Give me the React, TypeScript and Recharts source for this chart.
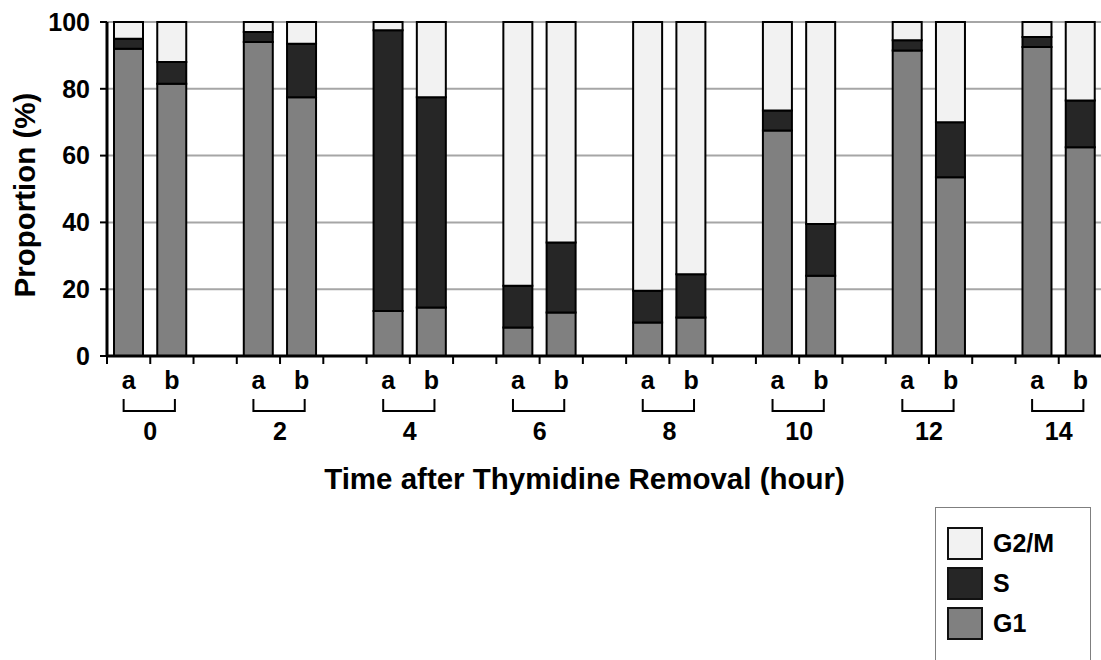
import { BarChart, Bar, XAxis, YAxis, CartesianGrid, Legend, Label } from "recharts";

// hours after thymidine removal, each with an "a" and a "b" bar
const hours = ["0", "2", "4", "6", "8", "10", "12", "14"];

// proportions (%)
const g1A = [92, 94, 13.5, 8.5, 10, 67.5, 91.5, 92.5];
const sA = [3, 3, 84, 12.5, 9.5, 6, 3, 3];
const g2mA = [5, 3, 2.5, 79, 80.5, 26.5, 5.5, 4.5];

const g1B = [81.5, 77.5, 14.5, 13, 11.5, 24, 53.5, 62.5];
const sB = [6.5, 16, 63, 21, 13, 15.5, 16.5, 14];
const g2mB = [12, 6.5, 22.5, 66, 75.5, 60.5, 30, 23.5];

const yTicks = [0, 20, 40, 60, 80, 100];

const series = [
  { key: "G1", name: "G1", color: "#808080" },
  { key: "S", name: "S", color: "#262626" },
  { key: "G2M", name: "G2/M", color: "#f2f2f2" },
];

const FONT = "'Liberation Sans', Arial, sans-serif";

type Row = { key: string; G1?: number; S?: number; G2M?: number };

const rows: Row[] = [];
hours.forEach((h, i) => {
  rows.push({ key: `${h}a`, G1: g1A[i], S: sA[i], G2M: g2mA[i] });
  rows.push({ key: `${h}b`, G1: g1B[i], S: sB[i], G2M: g2mB[i] });
  // empty slot between groups
  if (i < hours.length - 1) rows.push({ key: `gap${h}` });
});

function XTick(props: any) {
  const { x, y, payload, index } = props;
  const half = payload.offset || 995 / rows.length / 2;
  const k: string = payload.value;
  const letter = k.startsWith("gap") ? "" : k.slice(-1);
  const hour = k.slice(0, -1);
  const last = index === rows.length - 1;
  const txt = { fontFamily: FONT, fontWeight: 700, fontSize: 25, fill: "#000" };
  return (
    <g>
      <line x1={x - half} x2={x - half} y1={y + 1} y2={y + 8} stroke="#000" strokeWidth={2} />
      {last && <line x1={x + half} x2={x + half} y1={y + 1} y2={y + 8} stroke="#000" strokeWidth={2} />}
      {letter && (
        <text x={x} y={y + 33} textAnchor="middle" {...txt}>
          {letter}
        </text>
      )}
      {letter === "a" && (
        <>
          <path
            d={`M${x - 5},${y + 43}V${y + 55}H${x + 2 * half + 3}V${y + 43}`}
            fill="none"
            stroke="#000"
            strokeWidth={2}
          />
          <text x={x + half} y={y + 84} textAnchor="middle" {...txt}>
            {hour}
          </text>
        </>
      )}
    </g>
  );
}

function YTitle(props: any) {
  const vb = props.viewBox || { x: 0, y: 22, width: 107, height: 334 };
  const cx = vb.x + 35;
  const cy = vb.y + vb.height / 2 + 6;
  return (
    <text
      x={cx}
      y={cy}
      transform={`rotate(-90, ${cx}, ${cy})`}
      textAnchor="middle"
      fontFamily={FONT}
      fontWeight={700}
      fontSize={29.5}
      fill="#000"
    >
      Proportion (%)
    </text>
  );
}

function XTitle(props: any) {
  const vb = props.viewBox || { x: 107, y: 356, width: 995, height: 304 };
  return (
    <text
      x={vb.x + vb.width / 2 - 20}
      y={vb.y + 133}
      textAnchor="middle"
      fontFamily={FONT}
      fontWeight={700}
      fontSize={29.5}
      fill="#000"
    >
      Time after Thymidine Removal (hour)
    </text>
  );
}

function LegendBox() {
  // legend lists top segment first
  const items = [...series].reverse();
  return (
    <div
      style={{
        position: "relative",
        width: 156,
        height: 170,
        boxSizing: "border-box",
        border: "1px solid #7f7f7f",
        background: "#fff",
        fontFamily: FONT,
      }}
    >
      {items.map((s, i) => (
        <div key={s.key}>
          <div
            style={{
              position: "absolute",
              left: 11,
              top: 19 + i * 40,
              width: 36,
              height: 33,
              boxSizing: "border-box",
              border: "2px solid #111",
              background: s.color,
            }}
          />
          <div
            style={{
              position: "absolute",
              left: 57,
              top: 19 + i * 40,
              height: 33,
              lineHeight: "33px",
              fontSize: 25,
              fontWeight: 700,
              color: "#000",
            }}
          >
            {s.name}
          </div>
        </div>
      ))}
    </div>
  );
}

export default function App() {
  return (
    <div
      style={{
        position: "absolute",
        left: 0,
        top: 0,
        width: 1101,
        height: 660,
        overflow: "hidden",
        background: "#fff",
        fontFamily: FONT,
      }}
    >
      <BarChart
        width={1110}
        height={660}
        data={rows}
        margin={{ top: 22, right: 8, left: 0, bottom: 0 }}
        barSize={29}
      >
        <CartesianGrid vertical={false} stroke="#a6a6a6" strokeWidth={2} />
        <XAxis
          dataKey="key"
          interval={0}
          height={304}
          tickSize={0}
          tickMargin={0}
          tickLine={false}
          axisLine={{ stroke: "#000", strokeWidth: 3 }}
          tick={<XTick />}
        >
          <Label content={<XTitle />} />
        </XAxis>
        <YAxis
          width={107}
          domain={[0, 100]}
          ticks={yTicks}
          interval={0}
          tickSize={7}
          tickMargin={10}
          axisLine={{ stroke: "#000", strokeWidth: 3 }}
          tickLine={{ stroke: "#000", strokeWidth: 2 }}
          tick={{ fill: "#000", fontSize: 25, fontWeight: 700, fontFamily: FONT }}
        >
          <Label content={<YTitle />} />
        </YAxis>
        {series.map((s) => (
          <Bar
            key={s.key}
            dataKey={s.key}
            name={s.name}
            stackId="cycle"
            fill={s.color}
            stroke="#000"
            strokeWidth={2}
            isAnimationActive={false}
          />
        ))}
        <Legend
          layout="vertical"
          align="center"
          verticalAlign="middle"
          wrapperStyle={{ left: 935, top: 507, width: 156, height: 170 }}
          content={<LegendBox />}
        />
      </BarChart>
    </div>
  );
}
